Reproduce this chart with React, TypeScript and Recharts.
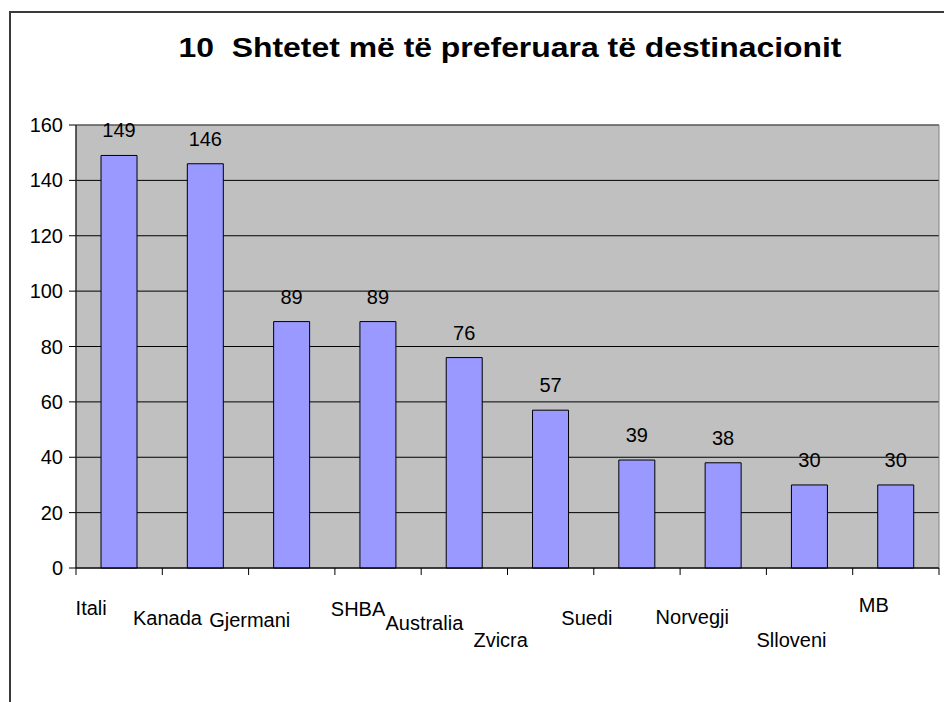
import {
  BarChart,
  Bar,
  XAxis,
  YAxis,
  CartesianGrid,
  ReferenceArea,
  LabelList,
} from "recharts";

const countries = [
  "Itali",
  "Kanada",
  "Gjermani",
  "SHBA",
  "Australia",
  "Zvicra",
  "Suedi",
  "Norvegji",
  "Slloveni",
  "MB",
];
const visitors = [149, 146, 89, 89, 76, 57, 39, 38, 30, 30];
const yTicks = [0, 20, 40, 60, 80, 100, 120, 140, 160];

// the category labels sit staggered and shifted, like in the original sheet
const labelShift = [-28, -38, -42, -20, -40, -50, -50, -31, -18, -22];
const labelBaseline = [615, 625, 627, 616, 630, 647, 625, 624, 647, 612];

const W = 944;
const H = 702;
const PLOT_LEFT = 76;
const PLOT_RIGHT = 939;
const BAND = (PLOT_RIGHT - PLOT_LEFT) / countries.length;
const FONT = "'Liberation Sans', Arial, sans-serif";

const data = countries.map((name, i) => ({ name, value: visitors[i] }));

function CountryTick(props: any) {
  const { x, y, index } = props;
  const left = x - BAND / 2;
  const last = index === countries.length - 1;
  return (
    <g>
      <line x1={left} y1={y} x2={left} y2={y + 7} stroke="#000" />
      {last && (
        <line x1={x + BAND / 2} y1={y} x2={x + BAND / 2} y2={y + 7} stroke="#000" />
      )}
      <text
        x={x + labelShift[index]}
        y={labelBaseline[index]}
        textAnchor="middle"
        fontSize={20}
        fontFamily={FONT}
        fill="#000"
      >
        {props.payload.value}
      </text>
    </g>
  );
}

export default function App() {
  return (
    <div
      style={{
        position: "absolute",
        left: 0,
        top: 0,
        width: W,
        height: H,
        background: "#fff",
        overflow: "hidden",
      }}
    >
      <BarChart
        width={W}
        height={H}
        data={data}
        margin={{ top: 125, right: W - PLOT_RIGHT, bottom: 94, left: 0 }}
        barCategoryGap="29%"
      >
        <CartesianGrid vertical={false} stroke="#000" fill="#C0C0C0" fillOpacity={1} />
        <ReferenceArea y1={0} y2={160} fill="none" stroke="#808080" />
        <XAxis
          dataKey="name"
          height={40}
          tickLine={false}
          tickSize={0}
          tickMargin={0}
          axisLine={{ stroke: "#000" }}
          tick={<CountryTick />}
          interval={0}
        />
        <YAxis
          width={PLOT_LEFT}
          domain={[0, 160]}
          ticks={yTicks}
          tickSize={7}
          tickMargin={6}
          axisLine={{ stroke: "#000" }}
          tickLine={{ stroke: "#000" }}
          tick={{ fill: "#000", fontSize: 20, fontFamily: FONT }}
        />
        <Bar dataKey="value" fill="#9999FF" stroke="#000" strokeWidth={1} isAnimationActive={false}>
          <LabelList
            dataKey="value"
            position="top"
            offset={18}
            fill="#000"
            fontSize={20}
            fontFamily={FONT}
          />
        </Bar>
      </BarChart>
      <svg
        width={W}
        height={H}
        style={{ position: "absolute", left: 0, top: 0, pointerEvents: "none" }}
      >
        <path d={`M10 ${H} L10 12 L${W} 12`} fill="none" stroke="#3a3a3a" strokeWidth={2} />
        <text
          x={510}
          y={57}
          textAnchor="middle"
          fontSize={27}
          fontWeight="bold"
          fontFamily={FONT}
          fill="#000"
          textLength={663}
          lengthAdjust="spacingAndGlyphs"
          style={{ whiteSpace: "pre" }}
        >
          {"10  Shtetet më të preferuara të destinacionit"}
        </text>
      </svg>
    </div>
  );
}
